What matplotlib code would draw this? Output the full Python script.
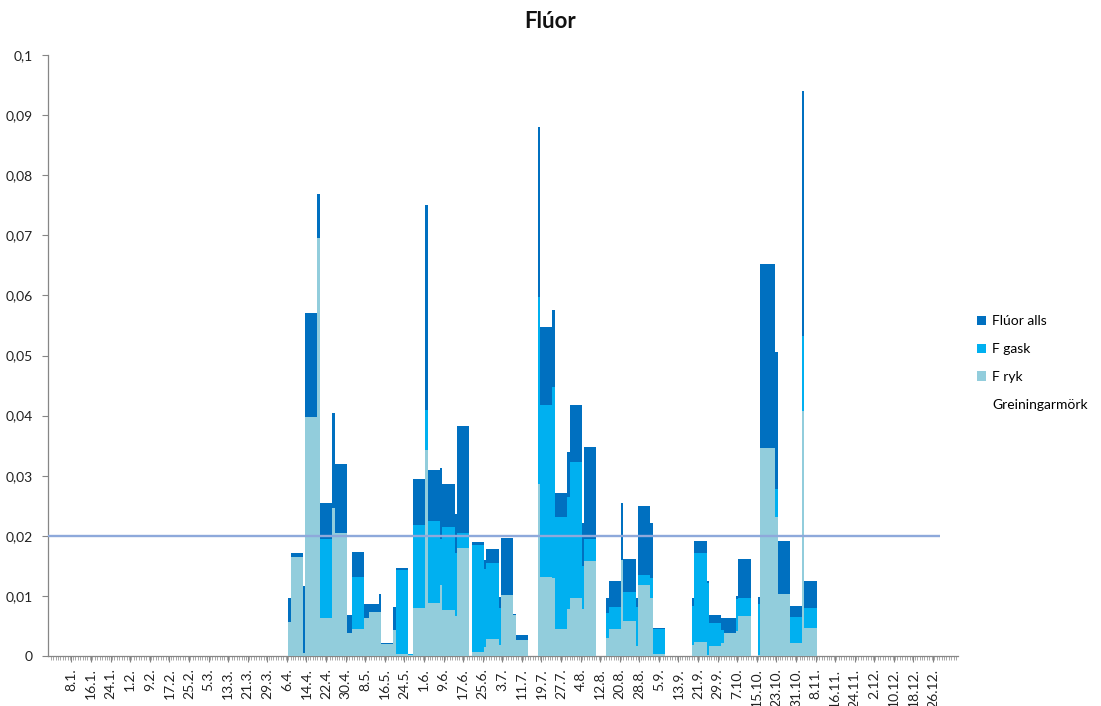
import numpy as np
import matplotlib
matplotlib.use("Agg")
import matplotlib.pyplot as plt
from matplotlib.patches import Patch
from matplotlib.lines import Line2D
import datetime as dt

plt.rcParams['font.family'] = ['Lato', 'DejaVu Sans']

# ---------------- data (sampling periods expanded to daily bars) ----------------
seg_start = [97, 98, 103, 104, 109, 110, 115, 116, 121, 123, 128, 130, 134, 135, 140, 141, 146,
             148, 153, 154, 159, 160, 165, 166, 172, 177, 178, 183, 184, 189, 190,
             199, 200, 205, 206, 211, 212, 217, 218, 227, 228, 233, 234, 239, 240, 245, 246,
             262, 263, 268, 269, 274, 275, 280, 281, 289, 290, 296, 297, 302, 307, 308]
seg_days = [1, 5, 1, 5, 1, 5, 1, 5, 2, 5, 2, 4, 1, 5, 1, 5, 2,
            5, 1, 5, 1, 5, 1, 5, 5, 1, 5, 1, 5, 1, 5,
            1, 5, 1, 5, 1, 5, 1, 5, 1, 5, 1, 5, 1, 5, 1, 5,
            1, 5, 1, 5, 1, 5, 1, 5, 1, 6, 1, 5, 5, 1, 5]
fluor_alls = [0.0097, 0.0171, 0.0116, 0.0570, 0.0769, 0.0254, 0.0404, 0.0319, 0.0069, 0.0173,
              0.0086, 0.0086, 0.0103, 0.0021, 0.0082, 0.0146, 0.0004,
              0.0295, 0.0750, 0.0309, 0.0313, 0.0287, 0.0237, 0.0383, 0.0190, 0.0160, 0.0178,
              0.0099, 0.0197, 0.0070, 0.0035,
              0.0880, 0.0547, 0.0575, 0.0271, 0.0340, 0.0417, 0.0222, 0.0348, 0.0097, 0.0124,
              0.0255, 0.0161, 0.0097, 0.0250, 0.0222, 0.0047,
              0.0097, 0.0191, 0.0124, 0.0069, 0.0064, 0.0064, 0.0100, 0.0161, 0.0099, 0.0653,
              0.0505, 0.0191, 0.0084, 0.0940, 0.0124]
f_gask = [0.0040, 0.0007, 0.0005, 0.0172, 0.0074, 0.0194, 0.0158, 0.0115, 0.0031, 0.0132,
          0.0022, 0.0013, 0.0030, 0.0001, 0.0039, 0.0143, 0.0003,
          0.0218, 0.0409, 0.0225, 0.0195, 0.0214, 0.0171, 0.0204, 0.0185, 0.0145, 0.0154,
          0.0080, 0.0096, 0.0002, 0.0009,
          0.0598, 0.0418, 0.0448, 0.0231, 0.0265, 0.0323, 0.0150, 0.0195, 0.0071, 0.0081,
          0.0096, 0.0106, 0.0081, 0.0134, 0.0130, 0.0045,
          0.0084, 0.0171, 0.0122, 0.0055, 0.0043, 0.0026, 0.0095, 0.0097, 0.0086, 0.0307,
          0.0278, 0.0088, 0.0065, 0.0533, 0.0080]
f_ryk = [0.0057, 0.0164, 0.0005, 0.0398, 0.0695, 0.0064, 0.0246, 0.0204, 0.0038, 0.0045,
         0.0064, 0.0073, 0.0073, 0.0020, 0.0043, 0.0003, 0.0001,
         0.0080, 0.0342, 0.0088, 0.0118, 0.0077, 0.0066, 0.0179, 0.0007, 0.0015, 0.0029,
         0.0019, 0.0101, 0.0068, 0.0026,
         0.0286, 0.0132, 0.0130, 0.0045, 0.0078, 0.0096, 0.0078, 0.0158, 0.0030, 0.0045,
         0.0159, 0.0059, 0.0016, 0.0118, 0.0097, 0.0003,
         0.0018, 0.0024, 0.0002, 0.0017, 0.0021, 0.0038, 0.0041, 0.0066, 0.0002, 0.0346,
         0.0231, 0.0103, 0.0021, 0.0408, 0.0047]
greiningarmork = 0.02

xtick_labels = ['8.1.', '16.1.', '24.1.', '1.2.', '9.2.', '17.2.', '25.2.', '5.3.', '13.3.',
                '21.3.', '29.3.', '6.4.', '14.4.', '22.4.', '30.4.', '8.5.', '16.5.', '24.5.',
                '1.6.', '9.6.', '17.6.', '25.6.', '3.7.', '11.7.', '19.7.', '27.7.', '4.8.',
                '12.8.', '20.8.', '28.8.', '5.9.', '13.9.', '21.9.', '29.9.', '7.10.', '15.10.',
                '23.10.', '31.10.', '8.11.', '16.11.', '24.11.', '2.12.', '10.12.', '18.12.',
                '26.12.']
ytick_values = [0, 0.01, 0.02, 0.03, 0.04, 0.05, 0.06, 0.07, 0.08, 0.09, 0.1]
ytick_labels = ['0', '0,01', '0,02', '0,03', '0,04', '0,05', '0,06', '0,07', '0,08', '0,09', '0,1']

# ---------------- expand to daily series ----------------
days = np.arange(1, 366)
tot = np.zeros(365); gas = np.zeros(365); ryk = np.zeros(365)
for s, n, a, g, r in zip(seg_start, seg_days, fluor_alls, f_gask, f_ryk):
    tot[s - 1:s - 1 + n] = a
    gas[s - 1:s - 1 + n] = g
    ryk[s - 1:s - 1 + n] = r

def doy(lbl):
    d, m = lbl.strip('.').split('.')
    return dt.date(2011, int(m), int(d)).timetuple().tm_yday

xtick_pos = [doy(l) for l in xtick_labels]

# ---------------- figure ----------------
W, H = 1101, 706
fig = plt.figure(figsize=(W / 100, H / 100), dpi=100)
ax = fig.add_axes([48 / W, 1 - 656 / H, (957.7 - 48) / W, (656 - 55) / H])

c_alls, c_gas, c_ryk = '#0070C0', '#00B0F0', '#92CDDC'
ax.bar(days, tot, width=1.0, color=c_alls, linewidth=0, zorder=2)
ax.bar(days, gas, width=1.0, color=c_gas, linewidth=0, zorder=3)
ax.bar(days, ryk, width=1.0, color=c_ryk, linewidth=0, zorder=4)
ax.hlines(greiningarmork, -1.6, 362.8, color='#8EA9DB', lw=1.7, zorder=5)

ax.set_xlim(-1.6, 370.1)
ax.set_ylim(0, 0.1)

ax.set_yticks(ytick_values)
ax.set_yticklabels(ytick_labels, fontsize=10, color='#222222')
ax.set_xticks(xtick_pos)
ax.set_xticklabels(xtick_labels, rotation=90, fontsize=10, color='#222222')
ax.set_xticks(np.arange(-0.5, 370, 1.0), minor=True)
ax.tick_params(axis='x', which='major', length=4, width=0.8, color='#868686', pad=5)
ax.tick_params(axis='x', which='minor', length=3, width=0.5, color='#868686')
ax.tick_params(axis='y', which='major', length=4, width=0.8, color='#868686', pad=7)

for sp in ['top', 'right']:
    ax.spines[sp].set_visible(False)
for sp in ['left', 'bottom']:
    ax.spines[sp].set_color('#868686')
    ax.spines[sp].set_linewidth(0.9)

fig.text(0.5, 1 - 21 / H, 'Flúor', ha='center', va='center', fontsize=16,
         fontweight='bold', color='#111111')

handles = [Patch(facecolor=c_alls, edgecolor='none'),
           Patch(facecolor=c_gas, edgecolor='none'),
           Patch(facecolor=c_ryk, edgecolor='none'),
           Line2D([], [], color='none')]
fig.legend(handles, ['Flúor alls', 'F gask', 'F ryk', 'Greiningarmörk'],
           loc='center left', bbox_to_anchor=(977 / W, 1 - 363 / H), frameon=False,
           fontsize=10, handlelength=0.65, handleheight=0.65, handletextpad=0.45,
           labelspacing=1.15, borderaxespad=0, borderpad=0)

fig.savefig('out.png', dpi=100)
